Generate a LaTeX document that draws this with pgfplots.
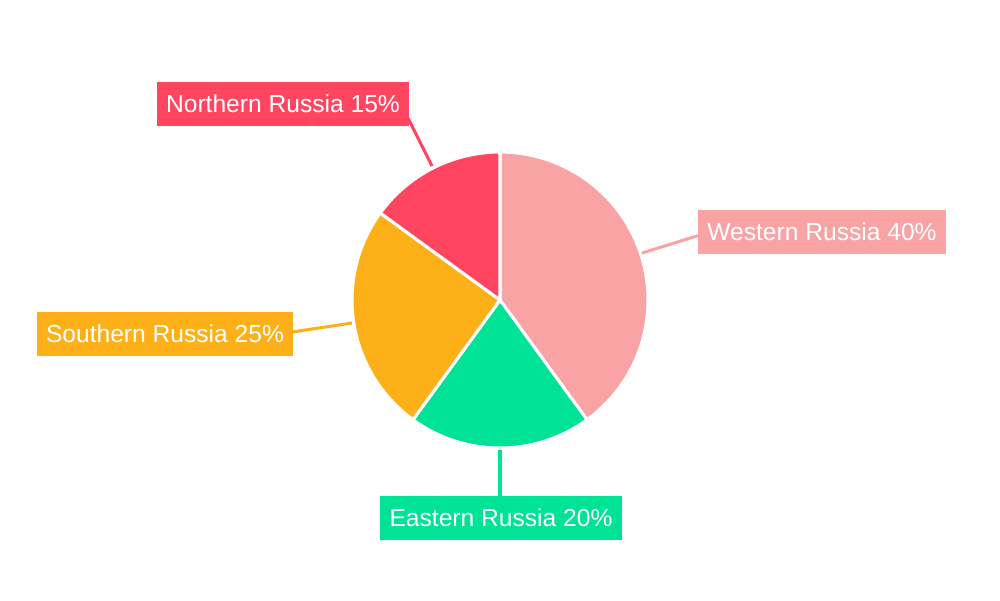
\documentclass[border=0pt]{standalone}
\usepackage{pgfplots}
\pgfplotsset{compat=1.18}
\usepackage{fontspec}
\setmainfont{Liberation Sans}
\definecolor{cWest}{HTML}{F9A3A4}
\definecolor{cEast}{HTML}{00E396}
\definecolor{cSouth}{HTML}{FEB019}
\definecolor{cNorth}{HTML}{FF4560}
% shares (percent), clockwise from 12 o'clock
\def\pW{40}\def\pE{20}\def\pS{25}\def\pN{15}
\begin{document}
\begin{tikzpicture}
\begin{axis}[
  scale only axis, width=15cm, height=9cm,
  xmin=-500, xmax=500, ymin=-300, ymax=300,
  hide axis, clip=false,
]
\path (rel axis cs:0,0) rectangle (rel axis cs:1,1);
\pgfmathsetmacro{\aA}{90}
\pgfmathsetmacro{\aB}{90-3.6*\pW}
\pgfmathsetmacro{\aC}{\aB-3.6*\pE}
\pgfmathsetmacro{\aD}{\aC-3.6*\pS}
\pgfmathsetmacro{\aE}{\aD-3.6*\pN}
\addplot[fill=cWest, draw=white, line width=1.3pt, domain=\aA:\aB, samples=80, variable=\t]
  ({148*cos(\t)},{148*sin(\t)}) -- (axis cs:0,0) -- cycle;
\addplot[fill=cEast, draw=white, line width=1.3pt, domain=\aB:\aC, samples=50, variable=\t]
  ({148*cos(\t)},{148*sin(\t)}) -- (axis cs:0,0) -- cycle;
\addplot[fill=cSouth, draw=white, line width=1.3pt, domain=\aC:\aD, samples=60, variable=\t]
  ({148*cos(\t)},{148*sin(\t)}) -- (axis cs:0,0) -- cycle;
\addplot[fill=cNorth, draw=white, line width=1.3pt, domain=\aD:\aE, samples=40, variable=\t]
  ({148*cos(\t)},{148*sin(\t)}) -- (axis cs:0,0) -- cycle;
% leader lines
\addplot[cNorth, line width=1.3pt] coordinates {(-68,134) (-92,182)};
\addplot[cWest, line width=1.3pt] coordinates {(142,47) (200,65)};
\addplot[cSouth, line width=1.3pt] coordinates {(-148,-23) (-208,-32)};
\addplot[cEast, line width=1.3pt] coordinates {(0,-150) (0,-196)};
% labels
\tikzset{lab/.style={text=white, inner xsep=3.9pt, inner ysep=0pt, minimum height=18.8pt,
  font=\fontsize{10.5}{12}\selectfont}}
\node[lab, fill=cNorth] at (axis cs:-217,196) {Northern Russia 15\%};
\node[lab, fill=cWest] at (axis cs:322,68) {Western Russia 40\%};
\node[lab, fill=cSouth] at (axis cs:-335,-34) {Southern Russia 25\%};
\node[lab, fill=cEast] at (axis cs:1,-218) {Eastern Russia 20\%};
\end{axis}
\end{tikzpicture}
\end{document}
